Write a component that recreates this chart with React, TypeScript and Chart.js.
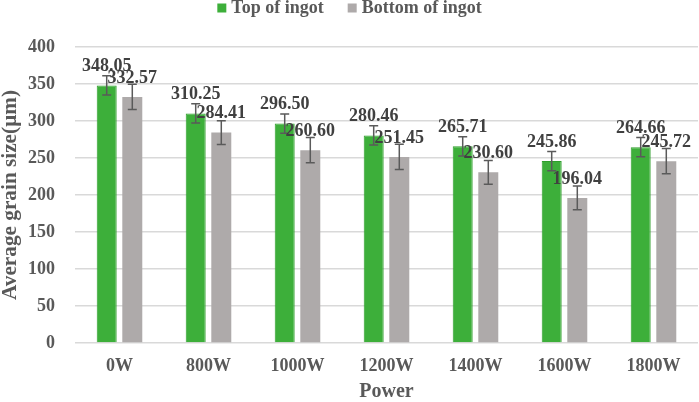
import React, { useEffect, useRef } from "react";
import { Chart, registerables } from "chart.js";

Chart.register(...registerables);

const categories = ["0W", "800W", "1000W", "1200W", "1400W", "1600W", "1800W"];
const seriesNames = ["Top of ingot", "Bottom of ingot"];
const topValues = [348.05, 310.25, 296.5, 280.46, 265.71, 245.86, 264.66];
const bottomValues = [332.57, 284.41, 260.6, 251.45, 230.6, 196.04, 245.72];
const topErrors = [13, 13, 13, 13, 13, 13, 13];
const bottomErrors = [17, 16, 17, 17, 16, 16, 17];
const yMin = 0;
const yMax = 400;
const yStep = 50;
const xTitle = "Power";
const yTitle = "Average grain size(\u03bcm)";

const FONT = "'Liberation Serif', 'Times New Roman', serif";
const GREEN = "#3DAF3A";
const GREEN_BORDER = "#2E9E2B";
const GRAY = "#AEAAAA";
const TEXT = "#595959";
const LABEL = "#404040";

const errorsByDataset = [topErrors, bottomErrors];

function fitFontSize(text: string, base: number, targetWidth: number) {
  const c = document.createElement("canvas");
  const ctx = c.getContext("2d");
  if (!ctx) return base;
  ctx.font = `bold ${base}px ${FONT}`;
  const w = ctx.measureText(text).width;
  if (!w) return base;
  return Math.max(10, Math.min(base * 1.3, (base * targetWidth) / w));
}

const overlayPlugin = {
  id: "overlay",
  afterDatasetsDraw(chart: any) {
    const ctx = chart.ctx;
    const yScale = chart.scales.y;
    ctx.save();
    chart.data.datasets.forEach((ds: any, i: number) => {
      const meta = chart.getDatasetMeta(i);
      meta.data.forEach((el: any, j: number) => {
        const v = ds.data[j];
        const e = errorsByDataset[i][j];
        const yt = yScale.getPixelForValue(v + e);
        const yb = yScale.getPixelForValue(v - e);
        ctx.strokeStyle = "#5A5A5A";
        ctx.lineWidth = 1.5;
        ctx.beginPath();
        ctx.moveTo(el.x, yt);
        ctx.lineTo(el.x, yb);
        ctx.moveTo(el.x - 4.5, yt);
        ctx.lineTo(el.x + 4.5, yt);
        ctx.moveTo(el.x - 4.5, yb);
        ctx.lineTo(el.x + 4.5, yb);
        ctx.stroke();
      });
    });
    ctx.font = `bold 18px ${FONT}`;
    ctx.fillStyle = LABEL;
    ctx.textAlign = "center";
    ctx.textBaseline = "middle";
    chart.data.datasets.forEach((ds: any, i: number) => {
      const meta = chart.getDatasetMeta(i);
      meta.data.forEach((el: any, j: number) => {
        ctx.fillText(Number(ds.data[j]).toFixed(2), el.x, el.y - 19);
      });
    });
    ctx.restore();
  },
  afterDraw(chart: any) {
    const ctx = chart.ctx;
    ctx.save();
    ctx.font = `bold 18px ${FONT}`;
    ctx.textBaseline = "middle";
    ctx.textAlign = "left";
    const box = 9;
    const gapBoxText = 5;
    const gapItems = 24;
    const items = chart.data.datasets.map((ds: any) => ({
      label: ds.label,
      color: ds.backgroundColor,
      w: ctx.measureText(ds.label).width,
    }));
    const total =
      items.reduce((s: number, it: any) => s + box + gapBoxText + it.w, 0) +
      gapItems * (items.length - 1);
    let x = chart.width / 2 - total / 2;
    const cy = 8;
    items.forEach((it: any) => {
      ctx.fillStyle = it.color;
      ctx.fillRect(x, cy - box / 2, box, box);
      x += box + gapBoxText;
      ctx.fillStyle = TEXT;
      ctx.fillText(it.label, x, cy);
      x += it.w + gapItems;
    });
    ctx.restore();
  },
};

export default function App() {
  const canvasRef = useRef<HTMLCanvasElement | null>(null);

  useEffect(() => {
    if (!canvasRef.current) return;
    const yTitleSize = fitFontSize(yTitle, 21, 210);
    const chart = new Chart(canvasRef.current, {
      type: "bar",
      data: {
        labels: categories,
        datasets: [
          {
            label: seriesNames[0],
            data: topValues,
            backgroundColor: GREEN,
            borderColor: GREEN_BORDER,
            borderWidth: 1,
            categoryPercentage: 0.575,
            barPercentage: 0.781,
          },
          {
            label: seriesNames[1],
            data: bottomValues,
            backgroundColor: GRAY,
            borderColor: GRAY,
            borderWidth: 0,
            categoryPercentage: 0.575,
            barPercentage: 0.781,
          },
        ],
      },
      options: {
        animation: false,
        responsive: true,
        maintainAspectRatio: false,
        layout: { padding: { top: 47, right: 1, left: 0, bottom: 0 } },
        plugins: {
          legend: { display: false },
          tooltip: { enabled: false },
        },
        scales: {
          x: {
            grid: { display: false },
            border: { display: false },
            ticks: {
              color: TEXT,
              font: { family: FONT, size: 18, weight: "bold" },
              padding: 5,
            },
            title: {
              display: true,
              text: xTitle,
              color: TEXT,
              font: { family: FONT, size: 20, weight: "bold", lineHeight: 1 },
              padding: { top: 0, bottom: 0 },
            },
            afterFit(scale: any) {
              scale.height = 59;
            },
          },
          y: {
            min: yMin,
            max: yMax,
            grid: { color: "#D9D9D9", lineWidth: 1.5, drawTicks: false },
            border: { display: false },
            ticks: {
              stepSize: yStep,
              color: TEXT,
              font: { family: FONT, size: 18, weight: "bold" },
              padding: 20,
            },
            title: {
              display: true,
              text: yTitle,
              color: TEXT,
              font: { family: FONT, size: yTitleSize, weight: "bold", lineHeight: 1 },
              padding: { top: 0, bottom: 0 },
            },
            afterFit(scale: any) {
              scale.width = 75;
            },
          },
        },
      },
      plugins: [overlayPlugin],
    });
    return () => chart.destroy();
  }, []);

  return (
    <div
      style={{
        position: "fixed",
        left: 0,
        top: 0,
        width: 699,
        height: 402,
        background: "#ffffff",
      }}
    >
      <canvas ref={canvasRef} />
    </div>
  );
}
